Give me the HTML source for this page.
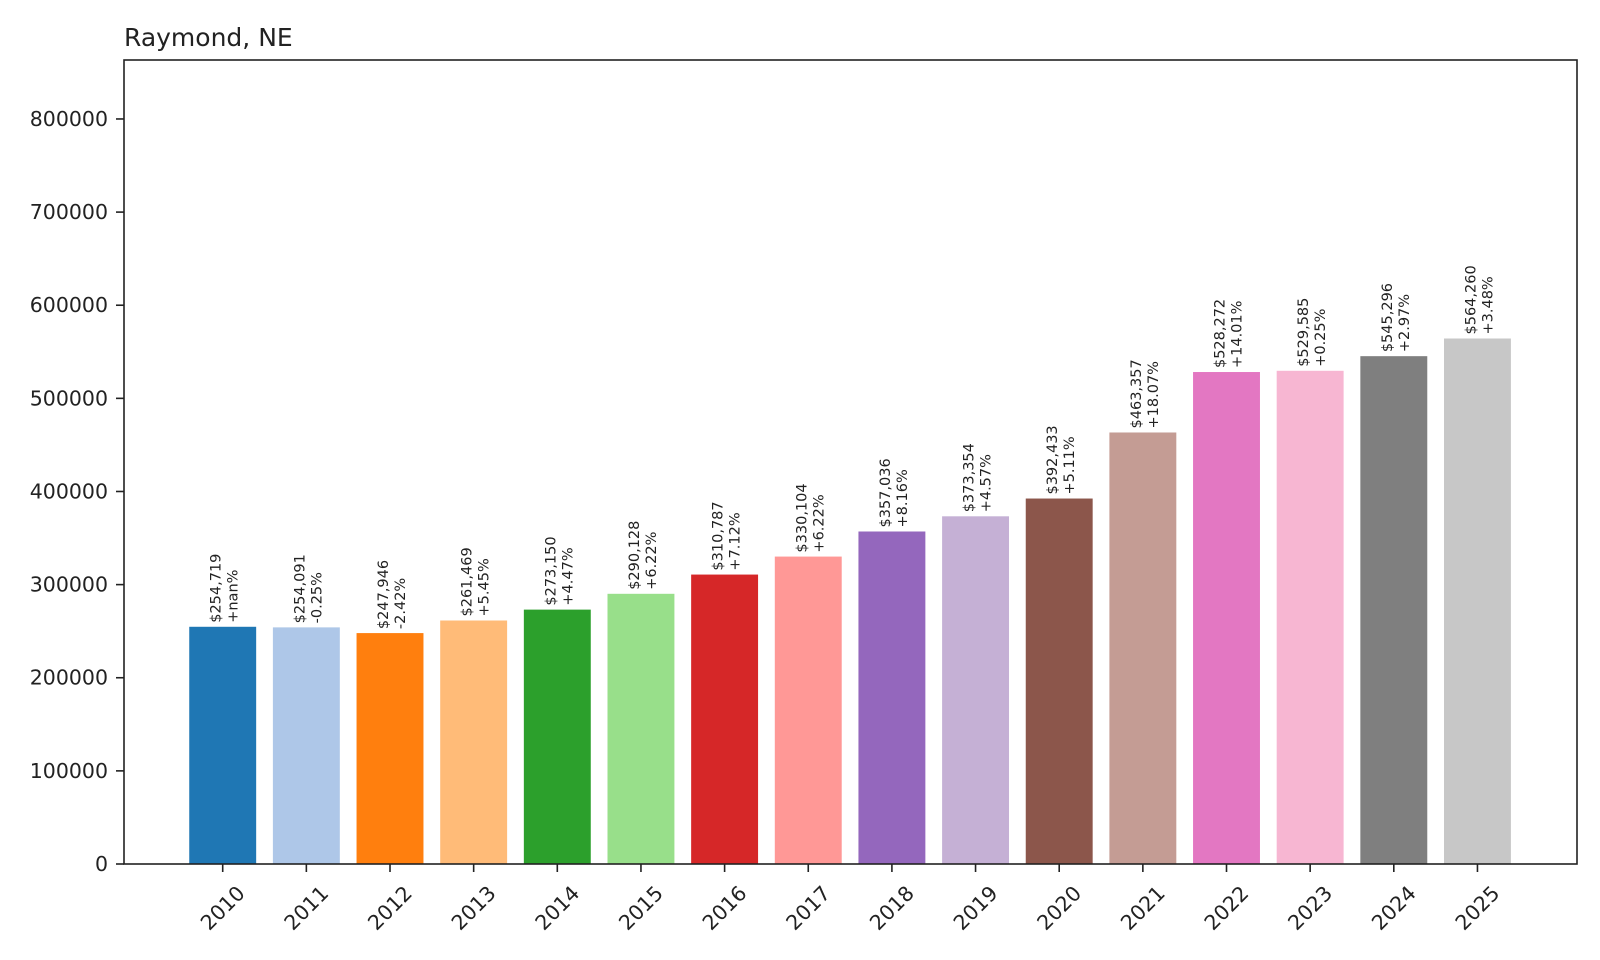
<!DOCTYPE html>
<html><head><meta charset="utf-8"><style>
html,body{margin:0;padding:0;background:#fff;}
svg{display:block;font-family:"DejaVu Sans","Liberation Sans",sans-serif;}
</style></head><body>
<svg id="chart" width="1600" height="960" viewBox="0 0 1600 960" xmlns="http://www.w3.org/2000/svg">
<rect width="1600" height="960" fill="#fff"/>
<text x="124" y="46" font-size="25" fill="#222">Raymond, NE</text>
<g id="bars"></g>
<g id="annos"></g>
<g id="yaxis"></g>
<g id="xaxis"></g>
<rect x="124" y="60" width="1453" height="804" fill="none" stroke="#222" stroke-width="1.6"/>
</svg>
<script>
const years = ["2010","2011","2012","2013","2014","2015","2016","2017","2018","2019","2020","2021","2022","2023","2024","2025"];
const values = [254719,254091,247946,261469,273150,290128,310787,330104,357036,373354,392433,463357,528272,529585,545296,564260];
const changes = ["+nan%","-0.25%","-2.42%","+5.45%","+4.47%","+6.22%","+7.12%","+6.22%","+8.16%","+4.57%","+5.11%","+18.07%","+14.01%","+0.25%","+2.97%","+3.48%"];
const yTicks = [0,100000,200000,300000,400000,500000,600000,700000,800000];
const colors = ["#1f77b4","#aec7e8","#ff7f0e","#ffbb78","#2ca02c","#98df8a","#d62728","#ff9896","#9467bd","#c5b0d5","#8c564b","#c49c94","#e377c2","#f7b6d2","#7f7f7f","#c7c7c7"];

const NS="http://www.w3.org/2000/svg";
const L=124,R=1577,T=60,B=864;
const yMax=Math.max(...values)*1.53;
const xMin=-1.18,xMax=years.length-1+1.19;
const xs=i=>L+(i-xMin)/(xMax-xMin)*(R-L);
const ys=v=>B-v/yMax*(B-T);
const bw=0.8*(R-L)/(xMax-xMin);
function mk(tag,attrs,parent){const e=document.createElementNS(NS,tag);for(const k in attrs)e.setAttribute(k,attrs[k]);parent.appendChild(e);return e;}
const gb=document.getElementById('bars'),ga=document.getElementById('annos'),gy=document.getElementById('yaxis'),gx=document.getElementById('xaxis');
const fmt=v=>'$'+v.toLocaleString('en-US');
values.forEach((v,i)=>{
  const cx=xs(i),top=ys(v);
  const r=mk('rect',{x:cx-bw/2,y:top,width:bw,height:B-top,fill:colors[i%colors.length]},gb);
  
  
  const t1=mk('text',{transform:`translate(${cx-2},${top-4}) rotate(-90)`,'font-size':'14.5',fill:'#222'},ga);
  t1.textContent=fmt(v);
  
  
  const t2=mk('text',{transform:`translate(${cx+15},${top-4}) rotate(-90)`,'font-size':'14.5',fill:'#222'},ga);
  t2.textContent=changes[i];
  
  
  const tk=mk('line',{x1:cx,x2:cx,y1:B,y2:B+8,stroke:'#222','stroke-width':1.6},gx);
  
  
  const xl=mk('text',{transform:`translate(${cx},${908}) rotate(-45)`,'text-anchor':'middle','dominant-baseline':'central','font-size':'20.5',fill:'#222'},gx);
  xl.textContent=years[i];
  
  
});
yTicks.forEach(v=>{
  const y=ys(v);
  const tk=mk('line',{x1:L-8,x2:L,y1:y,y2:y,stroke:'#222','stroke-width':1.6},gy);
  
  
  const tl=mk('text',{x:L-16,y:y,'text-anchor':'end','dominant-baseline':'central','font-size':'20.5',fill:'#222'},gy);
  tl.textContent=String(v);
  
  
});
</script>
</body></html>
